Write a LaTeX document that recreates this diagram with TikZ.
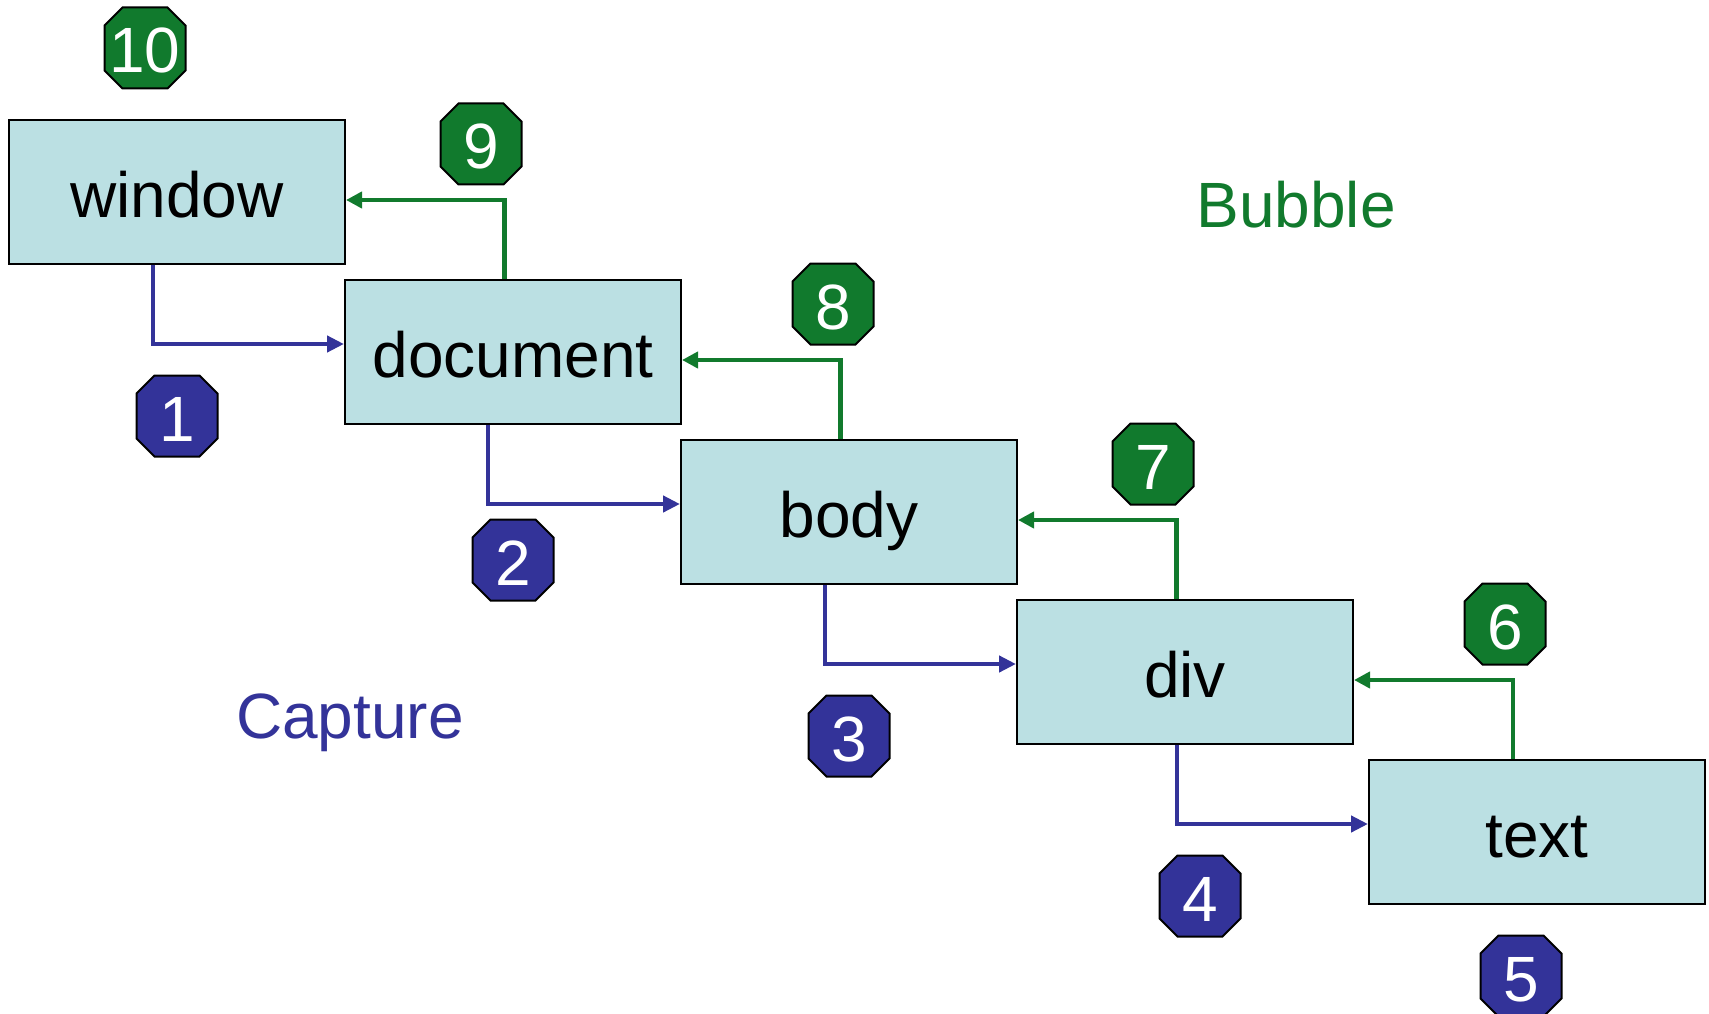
\documentclass[tikz,border=0pt]{standalone}
\usepackage{fontspec}
\setmainfont{Liberation Sans}
\usetikzlibrary{arrows.meta}
\definecolor{boxfill}{HTML}{BBE0E3}
\definecolor{capblue}{HTML}{333399}
\definecolor{bubgreen}{HTML}{117A2D}
\newcommand{\octmark}[4]{%
  \filldraw[octline, fill=#3, shift={#2}] (-40.5,-22.5) -- (-22.5,-40.5) -- (22.5,-40.5) -- (40.5,-22.5) -- (40.5,22.5) -- (22.5,40.5) -- (-22.5,40.5) -- (-40.5,22.5) -- cycle;
  \node[numlabel] (#1) at #2 {#4};}
\begin{document}
\begin{tikzpicture}[x=1pt,y=-1pt,
  bigfont/.style={font=\fontsize{64}{70}\selectfont},
  box/.style={draw=black, line width=2pt, fill=boxfill, minimum width=336pt, minimum height=144pt, inner sep=0pt, bigfont, text height=50pt, text depth=0pt},
  numlabel/.style={text=white, inner sep=0pt, bigfont, text height=50pt, text depth=0pt},
  octline/.style={draw=black, line width=2pt},
  capline/.style={capblue, line width=4.5pt, -{Triangle[length=17pt,width=16pt]}},
  bubline/.style={bubgreen, line width=4.5pt, -{Triangle[length=16pt,width=16pt]}},
  phase/.style={bigfont, inner sep=0pt, text height=50pt, text depth=0pt}]
\useasboundingbox (0,0) rectangle (1709,1014);
% boxes
\node[box] (window) at (177,192) {window};
\node[box] (document) at (513,352) {document};
\node[box] (body) at (849,512) {body};
\node[box] (div) at (1185,672) {div};
\node[box] (text) at (1537,832) {text};
% capture connectors
\draw[capline] ([xshift=-24pt]window.south) |- ([yshift=8pt]document.west);
\draw[capline] ([xshift=-25pt]document.south) |- ([yshift=8pt]body.west);
\draw[capline] ([xshift=-24pt]body.south) |- ([yshift=8pt]div.west);
\draw[capline] ([xshift=-8pt]div.south) |- ([yshift=8pt]text.west);
% bubble connectors
\draw[bubline] ([xshift=-8.5pt]document.north) |- ([yshift=-8pt]window.east);
\draw[bubline] ([xshift=-8.5pt]body.north) |- ([yshift=-8pt]document.east);
\draw[bubline] ([xshift=-8.5pt]div.north) |- ([yshift=-8pt]body.east);
\draw[bubline] ([xshift=-24pt]text.north) |- ([yshift=-8pt]div.east);
% numbered markers
\octmark{n1}{(177,416)}{capblue}{1}
\octmark{n2}{(513,560)}{capblue}{2}
\octmark{n3}{(849,736)}{capblue}{3}
\octmark{n4}{(1200,896)}{capblue}{4}
\octmark{n5}{(1521,976)}{capblue}{5}
\octmark{n6}{(1505,624)}{bubgreen}{6}
\octmark{n7}{(1153,464)}{bubgreen}{7}
\octmark{n8}{(833,304)}{bubgreen}{8}
\octmark{n9}{(481,144)}{bubgreen}{9}
\octmark{n10}{(145,48)}{bubgreen}{10}
% phase labels
\node[phase, text=bubgreen] (bubble) at (1296,202) {Bubble};
\node[phase, text=capblue] (capture) at (350,713) {Capture};
\end{tikzpicture}
\end{document}
